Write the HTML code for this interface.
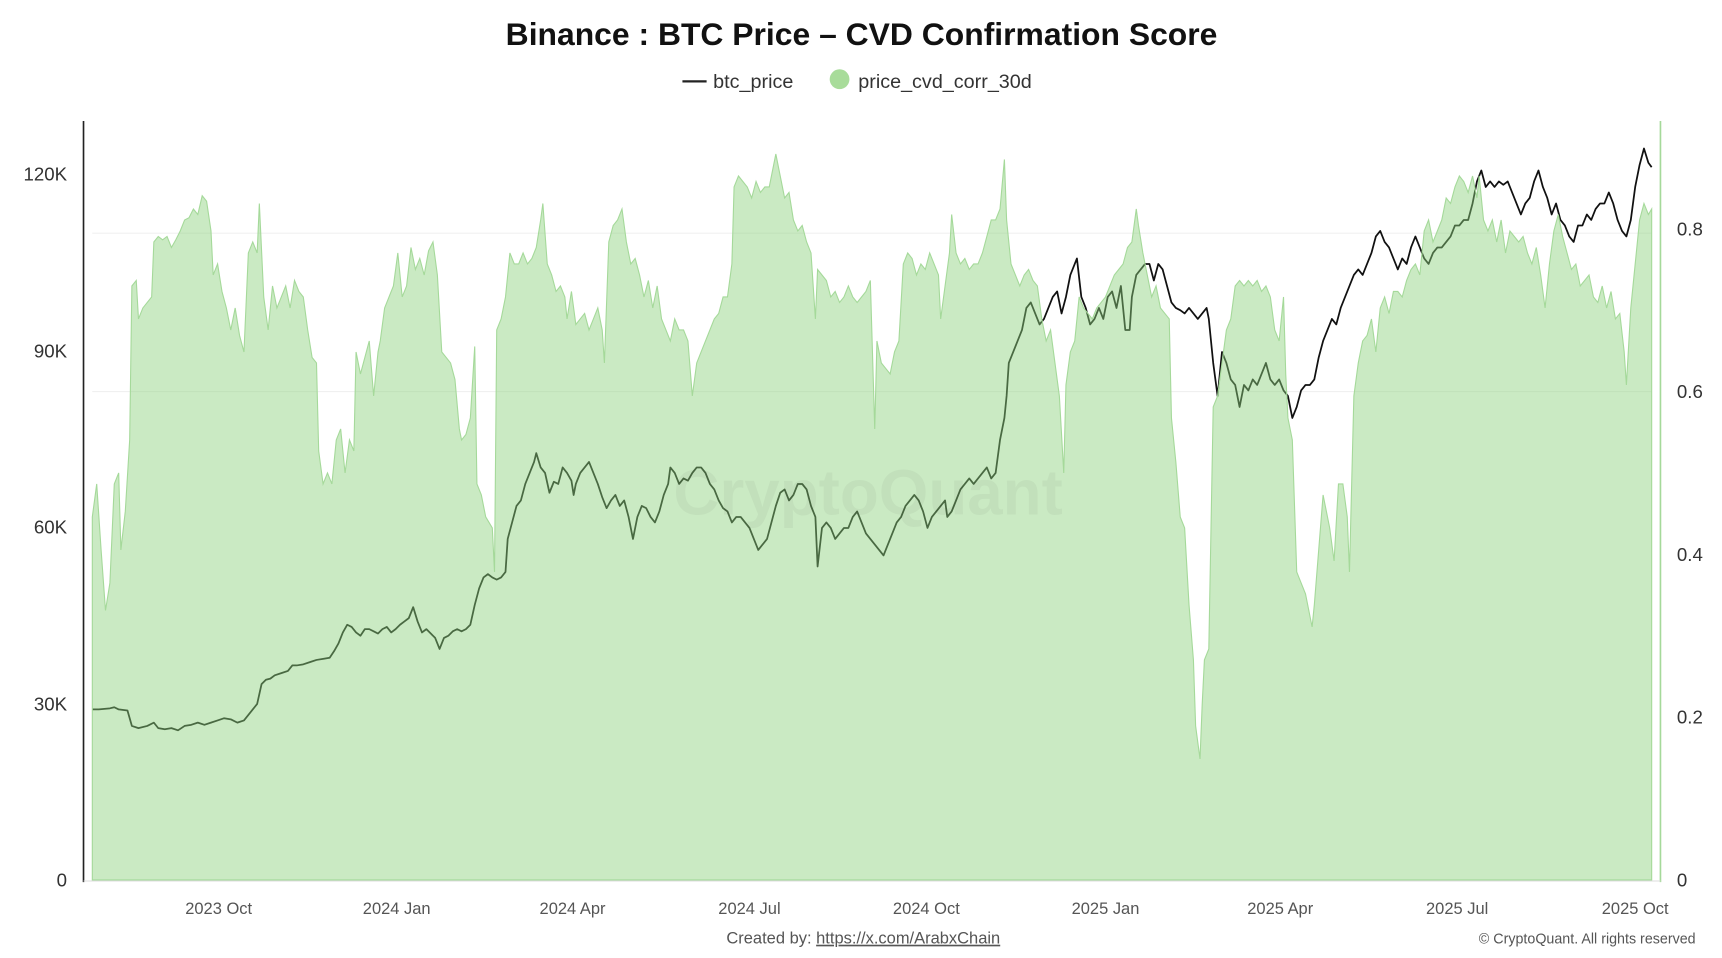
<!DOCTYPE html>
<html><head><meta charset="utf-8"><style>
html,body{margin:0;padding:0;background:#fff;}
svg{display:block;font-family:"Liberation Sans",sans-serif;}
</style></head><body>
<svg width="1722" height="958" viewBox="0 0 1567 871" preserveAspectRatio="none">
<rect width="1567" height="871" fill="#fff"/>
<text x="784" y="41" text-anchor="middle" font-size="29" font-weight="bold" fill="#111">Binance : BTC Price – CVD Confirmation Score</text>
<line x1="621" y1="74" x2="643" y2="74" stroke="#222" stroke-width="2"/>
<text x="649" y="80" font-size="18" fill="#333">btc_price</text>
<circle cx="764" cy="72" r="9" fill="#a8dc9a"/>
<text x="781" y="80" font-size="18" fill="#333">price_cvd_corr_30d</text>
<line x1="84" y1="212" x2="1503" y2="212" stroke="#f0f0f0"/>
<line x1="84" y1="356" x2="1503" y2="356" stroke="#f0f0f0"/>
<polyline fill="none" stroke="#111" stroke-width="1.6" stroke-linejoin="round" points="84,645 90,645 100,644 104,643 108,645 116,646 120,660 126,662 134,660 140,657 144,662 150,663 156,662 162,664 168,660 174,659 180,657 186,659 192,657 198,655 204,653 210,654 216,657 222,655 226,650 230,645 234,640 238,622 242,618 246,617 250,614 256,612 262,610 266,605 270,605 276,604 282,602 288,600 294,599 300,598 304,592 308,585 312,575 316,568 320,570 324,575 328,578 332,572 336,572 340,574 344,576 348,572 352,570 356,575 360,572 364,568 368,565 372,562 376,552 380,565 384,575 388,572 392,576 396,580 400,590 404,580 408,578 412,574 416,572 420,574 424,572 428,568 432,550 436,535 440,525 444,522 448,525 452,527 456,525 460,520 462,490 466,475 470,460 474,455 478,440 482,430 486,420 488,412 492,425 496,430 500,448 504,438 508,440 512,425 516,430 520,437 522,450 524,440 528,430 532,425 536,420 540,430 544,440 548,452 552,462 556,455 560,450 564,460 568,455 572,470 576,490 580,470 584,460 588,462 592,470 596,475 600,465 604,450 608,440 610,425 614,430 618,440 622,435 626,437 630,430 634,425 638,425 642,430 646,440 650,445 654,455 658,462 662,465 666,475 670,470 674,470 678,475 682,480 686,490 690,500 694,495 698,490 702,475 706,460 710,448 714,445 718,455 722,450 726,440 730,440 734,445 738,460 742,470 744,515 748,480 752,475 756,480 760,490 764,485 768,480 772,480 776,470 780,465 784,475 788,485 792,490 796,495 800,500 804,505 808,495 812,485 816,475 820,470 824,460 828,455 832,450 836,455 840,465 844,480 848,470 852,465 856,460 860,455 862,470 866,465 870,455 874,445 878,440 882,435 886,440 890,435 894,430 898,425 902,435 906,430 910,400 914,380 916,360 918,330 922,320 926,310 930,300 934,280 938,275 942,285 946,295 950,290 954,280 958,270 962,265 966,285 970,270 974,250 978,240 980,235 984,270 988,280 992,295 996,290 1000,280 1004,290 1008,270 1012,265 1016,280 1020,260 1024,300 1028,300 1030,270 1034,250 1038,245 1042,240 1046,240 1050,255 1054,240 1058,245 1062,260 1066,275 1070,280 1074,282 1078,285 1082,280 1086,285 1090,290 1094,285 1098,280 1100,290 1104,330 1108,360 1112,320 1116,330 1120,345 1124,350 1128,370 1132,350 1136,355 1140,345 1144,350 1148,340 1152,330 1156,345 1160,350 1164,345 1168,355 1172,360 1176,380 1180,370 1184,355 1188,350 1192,350 1196,345 1200,325 1204,310 1208,300 1212,290 1216,295 1220,280 1224,270 1228,260 1232,250 1236,245 1240,250 1244,240 1248,230 1252,215 1256,210 1260,220 1264,225 1268,235 1272,245 1276,235 1280,240 1284,225 1288,215 1292,225 1296,235 1300,240 1304,230 1308,225 1312,225 1316,220 1320,215 1324,205 1328,205 1332,200 1336,200 1340,185 1344,165 1348,155 1352,170 1356,165 1360,170 1364,165 1368,168 1372,165 1376,175 1380,185 1384,195 1388,185 1392,180 1396,165 1400,155 1404,170 1408,180 1412,195 1416,185 1420,200 1424,205 1428,215 1432,220 1436,205 1440,205 1444,195 1448,200 1452,190 1456,185 1460,185 1464,175 1468,185 1472,200 1476,210 1480,215 1484,200 1488,170 1492,150 1496,135 1500,148 1503,152"/>
<polygon fill="rgb(140,210,125)" fill-opacity="0.46" stroke="#a5d99a" stroke-width="1" points="84,800 84,470 88,440 92,500 96,555 100,530 104,440 108,430 110,500 114,465 118,400 120,260 124,255 126,290 130,280 134,275 138,270 140,220 144,215 148,218 152,215 156,225 160,218 164,210 168,200 172,198 176,190 180,195 184,178 188,183 192,210 194,250 198,240 202,265 206,280 210,300 214,280 218,305 222,320 226,230 230,220 234,230 236,185 240,270 244,300 248,260 252,280 256,270 260,260 264,280 268,255 272,265 276,270 280,300 284,325 288,330 290,410 294,440 298,430 302,440 306,400 310,390 314,430 318,400 322,410 324,320 328,340 332,325 336,310 340,360 344,320 346,310 350,280 354,270 358,260 362,230 366,270 370,260 374,225 378,245 382,235 386,250 390,228 394,220 398,250 402,320 406,325 410,330 414,345 418,390 420,400 424,395 428,380 432,315 434,440 438,450 442,470 448,480 450,520 452,300 456,290 460,270 464,230 468,240 472,240 476,230 480,240 484,235 488,225 492,200 494,185 498,240 502,250 506,265 510,260 514,270 516,290 520,265 524,295 528,290 532,285 536,300 540,290 544,280 548,300 550,330 554,220 558,205 562,200 566,190 570,220 574,240 578,235 582,250 586,270 590,255 594,280 598,260 602,290 606,300 610,310 614,290 618,300 622,300 626,310 630,360 634,330 638,320 642,310 646,300 650,290 654,285 658,270 662,270 666,240 668,170 672,160 676,165 680,170 684,180 688,165 692,175 696,170 700,170 704,150 706,140 710,160 714,180 718,175 722,200 726,210 730,205 734,220 738,230 742,290 744,245 748,250 752,255 756,270 760,265 764,275 768,270 772,260 776,270 780,275 784,270 788,265 792,255 796,390 798,310 802,330 806,335 810,340 814,320 818,310 822,240 826,230 830,235 834,250 838,240 842,245 846,230 850,240 854,250 856,290 860,260 864,230 866,195 870,230 874,240 878,235 882,245 886,240 890,240 894,230 898,215 902,200 906,200 910,190 914,145 916,200 920,240 924,250 928,260 932,250 936,245 940,255 944,260 948,290 952,310 956,300 960,330 964,360 968,430 970,350 974,320 978,310 982,270 986,280 990,285 994,290 998,280 1002,275 1006,270 1010,260 1014,250 1018,245 1022,240 1026,225 1030,220 1034,190 1036,205 1040,230 1044,250 1048,270 1052,260 1056,280 1060,285 1064,290 1066,380 1070,420 1074,470 1078,480 1082,550 1086,600 1088,660 1092,690 1094,640 1096,600 1100,590 1104,370 1108,360 1112,330 1116,300 1120,290 1124,260 1128,255 1132,260 1136,255 1140,260 1144,255 1148,265 1152,260 1156,270 1160,300 1164,310 1168,270 1170,340 1172,380 1176,400 1180,520 1184,530 1188,540 1192,560 1194,570 1196,550 1200,500 1204,450 1206,460 1210,480 1214,510 1218,440 1222,440 1226,470 1228,520 1232,360 1236,330 1240,310 1244,305 1248,290 1252,320 1256,280 1260,270 1264,285 1268,265 1272,265 1276,270 1280,255 1284,245 1288,240 1292,250 1296,210 1300,200 1304,220 1308,210 1312,200 1316,180 1320,185 1324,170 1328,160 1332,165 1336,175 1340,160 1344,180 1346,160 1350,200 1354,210 1358,200 1362,220 1366,200 1370,230 1374,210 1378,215 1382,220 1386,215 1390,230 1394,240 1398,225 1402,250 1406,280 1410,240 1414,210 1418,195 1422,215 1426,230 1430,245 1434,240 1438,260 1442,255 1446,250 1450,270 1454,275 1458,260 1462,280 1466,265 1470,290 1474,285 1478,320 1480,350 1484,280 1488,240 1492,200 1496,185 1500,195 1503,190 1503,800"/>
<text x="790" y="468" text-anchor="middle" font-size="58" fill="#000" fill-opacity="0.04" font-weight="bold">CryptoQuant</text>
<line x1="76" y1="110" x2="76" y2="802" stroke="#222" stroke-width="1.5"/>
<line x1="1511" y1="110" x2="1511" y2="802" stroke="#a5d99a" stroke-width="1.5"/>
<line x1="76" y1="801" x2="1511" y2="801" stroke="#ddd"/>
<g font-size="17" fill="#333" text-anchor="end">
<text x="61" y="164">120K</text><text x="61" y="325">90K</text><text x="61" y="485">60K</text><text x="61" y="646">30K</text><text x="61" y="806">0</text>
</g>
<g font-size="17" fill="#333">
<text x="1526" y="214">0.8</text><text x="1526" y="362">0.6</text><text x="1526" y="510">0.4</text><text x="1526" y="658">0.2</text><text x="1526" y="806">0</text>
</g>
<g font-size="15" fill="#555" text-anchor="middle">
<text x="199" y="831">2023 Oct</text><text x="361" y="831">2024 Jan</text><text x="521" y="831">2024 Apr</text><text x="682" y="831">2024 Jul</text><text x="843" y="831">2024 Oct</text><text x="1006" y="831">2025 Jan</text><text x="1165" y="831">2025 Apr</text><text x="1326" y="831">2025 Jul</text><text x="1488" y="831">2025 Oct</text>
</g>
<text x="661" y="858" font-size="15" fill="#555">Created by: <tspan text-decoration="underline">https://x.com/ArabxChain</tspan></text>
<text x="1543" y="858" font-size="13" fill="#555" text-anchor="end">© CryptoQuant. All rights reserved</text>
</svg>
</body></html>
